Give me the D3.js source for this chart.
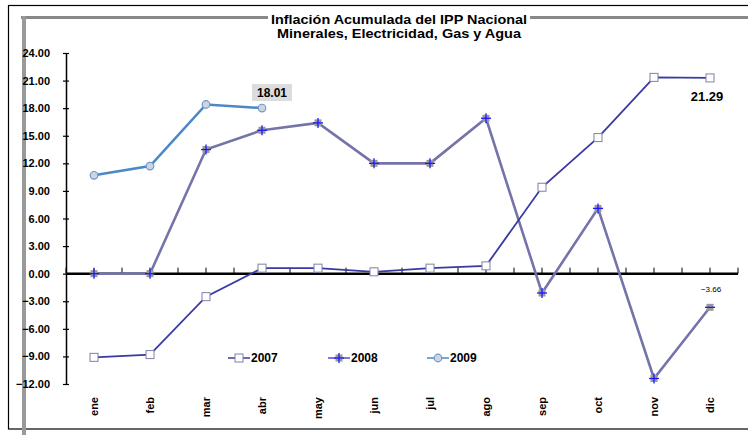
<!DOCTYPE html>
<html><head><meta charset="utf-8">
<script src="https://cdn.jsdelivr.net/npm/d3@7"></script>
<style>body{margin:0;background:#fff}svg{display:block}text{font-family:"Liberation Sans",Arial,sans-serif}</style>
</head><body><svg id="c" width="748" height="435"></svg>
<script>
const months = ["ene","feb","mar","abr","may","jun","jul","ago","sep","oct","nov","dic"];
const s2007 = [-9.1,-8.8,-2.5,0.6,0.6,0.2,0.6,0.85,9.4,14.8,21.35,21.29];
const s2008 = [0,0,13.5,15.6,16.4,12.0,12.0,16.9,-2.1,7.1,-11.4,-3.66];
const s2009 = [10.7,11.7,18.4,18.01];
const yTicks = [24,21,18,15,12,9,6,3,0,-3,-6,-9,-12];
const titleLines = ["Inflación Acumulada del IPP Nacional","Minerales, Electricidad, Gas y Agua"];
const seriesNames = ["2007","2008","2009"];

const svg = d3.select("#c");
const x = d3.scaleBand().domain(months).range([66,738]);
const y = d3.scaleLinear().domain([-12,24]).range([384,53]);
const cx = m => x(m) + x.bandwidth()/2;

// frames
svg.append("rect").attr("x",8.5).attr("y",5.5).attr("width",760).attr("height",423.5).attr("fill","none").attr("stroke","#000").attr("stroke-width",1.2);
svg.append("line").attr("x1",21).attr("x2",748).attr("y1",17.5).attr("y2",17.5).attr("stroke","#888").attr("stroke-width",3);
svg.append("line").attr("x1",24).attr("x2",24).attr("y1",16).attr("y2",435).attr("stroke","#999").attr("stroke-width",4);

// title
const tg = svg.append("g");
tg.append("rect").attr("x",268).attr("y",12).attr("width",262).attr("height",14).attr("fill","#fff");
titleLines.forEach((t,i)=>{
  tg.append("text").attr("x",399).attr("y",24+i*14).attr("text-anchor","middle")
    .attr("font-size",12).attr("font-weight","bold").attr("textLength",i==0?256:244).attr("lengthAdjust","spacingAndGlyphs").text(t);
});

// y axis
const yAxis = d3.axisLeft(y).tickValues(yTicks).tickFormat(d3.format(".2f")).tickSize(0).tickPadding(16);
const ya = svg.append("g").attr("transform","translate(66,0)").call(yAxis);
ya.select(".domain").attr("stroke","#000").attr("stroke-width",1.5);
ya.selectAll("text").attr("font-size",11).attr("font-weight","bold").attr("fill","#000").attr("font-family","Liberation Sans");
ya.selectAll(".tick").append("line").attr("x1",-3).attr("x2",3).attr("stroke","#000").attr("stroke-width",1.2);

// x axis at zero
const bounds = d3.range(0,13).map(i=>66+i*x.step());
svg.append("line").attr("x1",66).attr("x2",738).attr("y1",y(0)).attr("y2",y(0)).attr("stroke","#000").attr("stroke-width",2.5);
svg.selectAll(".xt").data(bounds.concat(months.map(cx))).enter().append("line")
  .attr("x1",d=>d).attr("x2",d=>d).attr("y1",y(0)-6).attr("y2",y(0)).attr("stroke","#000").attr("stroke-width",1);
svg.selectAll(".xl").data(months).enter().append("text")
  .attr("transform",m=>`translate(${cx(m)+4},397) rotate(-90)`).attr("text-anchor","end")
  .attr("font-size",11).attr("font-weight","bold").text(d=>d);

const line = d3.line().x((d,i)=>cx(months[i])).y(d=>y(d));
// 2008
svg.append("path").datum(s2008).attr("d",line).attr("fill","none").attr("stroke","#7474a8").attr("stroke-width",2.6);
// 2007
svg.append("path").datum(s2007).attr("d",line).attr("fill","none").attr("stroke","#3a3aa0").attr("stroke-width",1.8);
// 2009
svg.append("path").datum(s2009).attr("d",line).attr("fill","none").attr("stroke","#4a88c8").attr("stroke-width",2.6);

function sq(g,xx,yy){g.append("rect").attr("x",xx-4).attr("y",yy-4).attr("width",8).attr("height",8).attr("fill","#fff").attr("stroke","#8080a8").attr("stroke-width",1);}
function plus(g,xx,yy,minus){g.append("rect").attr("x",xx-3.5).attr("y",yy-3.5).attr("width",7).attr("height",7).attr("fill","#999");
  g.append("line").attr("x1",xx-5).attr("x2",xx+5).attr("y1",yy).attr("y2",yy).attr("stroke","#1a1aff").attr("stroke-width",1.3);
  if(!minus) g.append("line").attr("x1",xx).attr("x2",xx).attr("y1",yy-5).attr("y2",yy+5).attr("stroke","#1a1aff").attr("stroke-width",1.3);}
function circ(g,xx,yy){g.append("circle").attr("cx",xx).attr("cy",yy).attr("r",3.8).attr("fill","#d0d4dc").attr("stroke","#6a9ad0").attr("stroke-width",1.2);}

const mg = svg.append("g");
s2008.forEach((v,i)=>plus(mg,cx(months[i]),y(v),i==11));
s2007.forEach((v,i)=>sq(mg,cx(months[i]),y(v)));
s2009.forEach((v,i)=>circ(mg,cx(months[i]),y(v)));

// data labels
svg.append("rect").attr("x",252).attr("y",84).attr("width",40).attr("height",17).attr("fill","#dcdcdc");
svg.append("text").attr("x",272).attr("y",97).attr("text-anchor","middle").attr("font-size",12).attr("font-weight","bold").text(d3.format(".2f")(s2009[3]));
svg.append("text").attr("x",707).attr("y",101).attr("text-anchor","middle").attr("font-size",13).attr("font-weight","bold").text(d3.format(".2f")(s2007[11]));
svg.append("text").attr("x",711).attr("y",292).attr("text-anchor","middle").attr("font-size",8).text(d3.format(".2f")(s2008[11]));

// legend
const lg = svg.append("g");
const lx = [228,328,427];
seriesNames.forEach((n,i)=>{
  const g = lg.append("g");
  const col = ["#3a3aa0","#5050b0","#4a88c8"][i];
  g.append("line").attr("x1",lx[i]).attr("x2",lx[i]+22).attr("y1",358).attr("y2",358).attr("stroke",col).attr("stroke-width",1.5);
  if(i==0) sq(g,lx[i]+11,358); else if(i==1) plus(g,lx[i]+11,358,false); else circ(g,lx[i]+11,358);
  g.append("text").attr("x",lx[i]+23).attr("y",362).attr("font-size",12).attr("font-weight","bold").text(n);
});
</script></body></html>
